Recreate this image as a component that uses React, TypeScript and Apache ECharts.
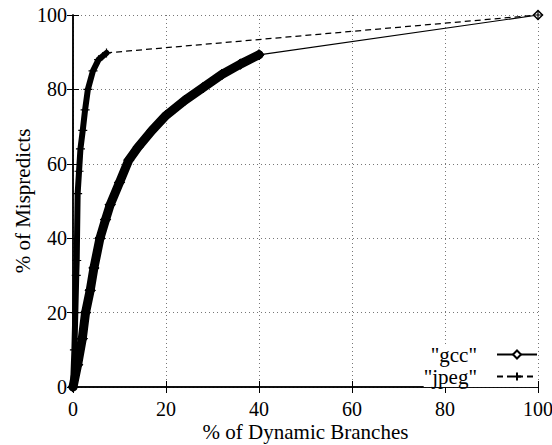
import React, { useEffect, useRef } from "react";
import * as echarts from "echarts";

const xTicks = [0, 20, 40, 60, 80, 100];
const yTicks = [0, 20, 40, 60, 80, 100];

const gccX = [0, 1, 2, 2.7, 3.7, 4.5, 5.8, 7, 8, 10, 12, 14, 17, 20, 24, 28, 32, 36, 40, 100];
const gccY = [0, 6, 13, 20, 26, 32, 40, 45, 49, 55, 61, 64.5, 69, 73, 77, 80.5, 84, 86.8, 89.3, 100];

const jpegX = [0, 0.3, 0.5, 0.7, 0.8, 1.0, 1.3, 1.6, 2.1, 2.6, 3.2, 4.3, 5.5, 7.2, 100];
const jpegY = [0, 10, 20, 30, 34, 52, 58, 64, 69, 74.5, 80, 85, 88, 89.8, 100];

const seriesNames = ['"gcc"', '"jpeg"'];
const xTitle = "% of Dynamic Branches";
const yTitle = "% of Mispredicts";

const FONT = "'Liberation Serif', 'Times New Roman', Times, serif";
const PLUS = "path://M0,5L10,5M5,0L5,10";

export default function App() {
  const ref = useRef<HTMLDivElement>(null);
  useEffect(() => {
    if (!ref.current) return;
    const chart = echarts.init(ref.current, undefined, { renderer: "svg" });
    const gcc = gccX.map((x, i) => [x, gccY[i]]);
    const jpeg = jpegX.map((x, i) => [x, jpegY[i]]);
    const gccBand = gcc.filter((p) => p[0] <= 40);
    const jpegBand = jpeg.filter((p) => p[0] <= 7.2);
    const axisCommon = {
      type: "value" as const,
      min: 0,
      max: 100,
      interval: 20,
      axisLine: { show: true, lineStyle: { color: "#000", width: 1.5 } },
      axisTick: { show: true, inside: true, length: 6, lineStyle: { color: "#000", width: 1 } },
    };
    chart.setOption({
      animation: false,
      backgroundColor: "#fff",
      textStyle: { fontFamily: FONT, color: "#000" },
      grid: { left: 73, right: 14, top: 15, bottom: 58, containLabel: false, outerBoundsMode: "none" },
      legend: {
        data: seriesNames,
        orient: "vertical",
        right: 14,
        top: 344,
        align: "right",
        itemWidth: 40,
        itemHeight: 10,
        itemGap: 1,
        textStyle: { fontFamily: FONT, fontSize: 21, color: "#000", padding: [0, 15, 0, 0] },
        backgroundColor: "#fff",
        padding: [0, 0, 0, 0],
      },
      xAxis: [
        {
          ...axisCommon,
          position: "bottom",
          name: xTitle,
          nameLocation: "middle",
          nameGap: 34,
          nameMoveOverlap: false,
          nameTextStyle: { fontFamily: FONT, fontSize: 21, color: "#000" },
          axisLabel: { fontFamily: FONT, fontSize: 20, color: "#000", margin: 12 },
          splitLine: { show: true, lineStyle: { color: "#777", type: [1, 3], width: 1 } },
        },
        {
          ...axisCommon,
          position: "top",
          axisLabel: { show: false },
          splitLine: { show: false },
        },
      ],
      yAxis: [
        {
          ...axisCommon,
          position: "left",
          name: yTitle,
          nameLocation: "middle",
          nameGap: 40,
          nameMoveOverlap: false,
          nameTextStyle: { fontFamily: FONT, fontSize: 21, color: "#000" },
          axisLabel: { fontFamily: FONT, fontSize: 20, color: "#000", margin: 6 },
          splitLine: { show: true, lineStyle: { color: "#777", type: [1, 3], width: 1 } },
        },
        {
          ...axisCommon,
          position: "right",
          axisLabel: { show: false },
          splitLine: { show: false },
        },
      ],
      series: [
        {
          name: seriesNames[0],
          type: "line",
          data: gcc,
          symbol: "diamond",
          symbolSize: 9,
          showAllSymbol: true,
          itemStyle: { color: "#fff", borderColor: "#000", borderWidth: 1.5 },
          lineStyle: { color: "#000", width: 1.2, type: "solid" },
          z: 3,
        },
        {
          name: "gccBand",
          type: "line",
          data: gccBand,
          symbol: "diamond",
          symbolSize: 10,
          itemStyle: { color: "#000", borderColor: "#000" },
          lineStyle: { color: "#000", width: 9, cap: "round", join: "round" },
          z: 4,
        },
        {
          name: seriesNames[1],
          type: "line",
          data: jpeg,
          symbol: PLUS,
          symbolSize: 9,
          itemStyle: { color: "none", borderColor: "#000", borderWidth: 1.2 },
          lineStyle: { color: "#000", width: 1.2, type: [6, 4] },
          z: 3,
        },
        {
          name: "jpegBand",
          type: "line",
          data: jpegBand,
          symbol: "none",
          lineStyle: { color: "#000", width: 6, cap: "round", join: "round" },
          z: 4,
        },
      ],
    });
    return () => chart.dispose();
  }, []);
  return <div ref={ref} style={{ width: 552, height: 445, position: "absolute", left: 0, top: 0 }} />;
}
